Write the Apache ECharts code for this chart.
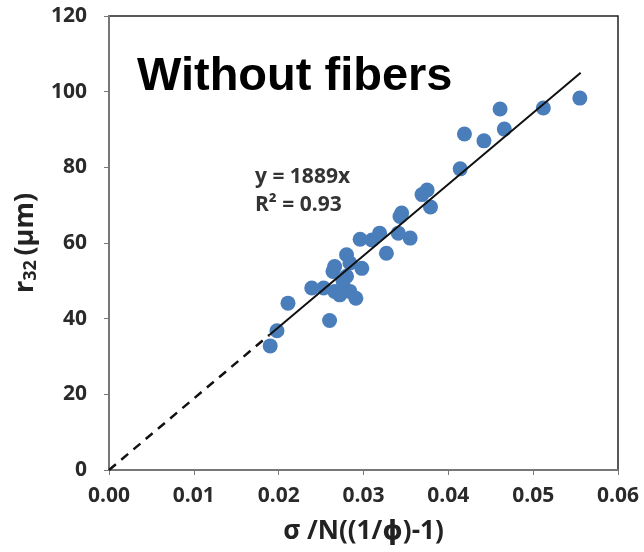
<!DOCTYPE html>
<html><head><meta charset="utf-8">
<script src="https://cdn.jsdelivr.net/npm/echarts@6/dist/echarts.min.js"></script>
<style>html,body{margin:0;padding:0;background:#fff}#c{width:644px;height:552px}</style>
</head><body><div id="c"></div>
<script>
const xValues = [0.0190,0.0198,0.0211,0.0260,0.0239,0.0253,0.0266,0.0276,0.0272,0.0284,0.0291,0.0266,0.0280,0.0284,0.0298,0.0264,0.0280,0.0296,0.0310,0.0319,0.0327,0.0341,0.0343,0.0355,0.0345,0.0369,0.0375,0.0379,0.0414,0.0419,0.0442,0.0461,0.0466,0.0512,0.0555];
const yValues = [32.8,36.8,44.1,39.5,48.1,48.1,47.2,49.8,46.3,47.2,45.4,53.8,56.9,54.7,53.3,52.5,51.2,61.0,60.8,62.6,57.3,62.6,67.0,61.3,67.9,72.8,74.0,69.5,79.6,88.8,87.0,95.4,90.1,95.7,98.3];
const xTicks = [0,0.01,0.02,0.03,0.04,0.05,0.06];
const yTicks = [0,20,40,60,80,100,120];
const slope = 1889;
const dashedXs = [0, 0.0189];
const solidXs = [0.0189, 0.0556];

const pts = xValues.map((x,i)=>[x,yValues[i]]);
const chart = echarts.init(document.getElementById('c'));
const lblFont = {fontFamily:'Open Sans, DejaVu Sans, sans-serif', fontWeight:'bold', color:'#2a2a2a'};
chart.setOption({
  animation:false,
  grid:{left:109,right:26,top:16,bottom:82,show:true,borderColor:'#222',borderWidth:1.5},
  xAxis:{type:'value',min:xTicks[0],max:xTicks[xTicks.length-1],interval:0.01,
    axisLine:{show:true,onZero:false,lineStyle:{color:'#777',width:2}},
    axisTick:{show:true,length:5,lineStyle:{color:'#777'}},
    splitLine:{show:false},
    axisLabel:Object.assign({fontSize:21,margin:16,formatter:v=>v.toFixed(2)},lblFont),
    name:'σ /N((1/ϕ)-1)',nameLocation:'middle',nameGap:49,
    nameTextStyle:Object.assign({},lblFont,{fontSize:26,color:'#222'})},
  yAxis:{type:'value',min:yTicks[0],max:yTicks[yTicks.length-1],interval:20,
    axisLine:{show:true,onZero:false,lineStyle:{color:'#777',width:2}},
    axisTick:{show:true,length:5,lineStyle:{color:'#777'}},
    splitLine:{show:false},
    axisLabel:Object.assign({fontSize:21,margin:22},lblFont),
    name:'{a|r}{b|32 }{a|(μm)}',nameLocation:'middle',nameGap:57,nameRotate:90,
    nameTextStyle:{rich:{
      a:Object.assign({},lblFont,{fontSize:27,color:'#222'}),
      b:Object.assign({},lblFont,{fontSize:18,color:'#222',padding:[11,0,0,0]})}}},
  series:[
    {type:'line',data:dashedXs.map(x=>[x,slope*x]),symbol:'none',
      lineStyle:{color:'#111',width:2.5,type:[9,7]},z:3},
    {type:'line',data:solidXs.map(x=>[x,slope*x]),symbol:'none',
      lineStyle:{color:'#111',width:2},z:3},
    {type:'scatter',data:pts,symbolSize:15,itemStyle:{color:'#4a7ebb',opacity:1},z:2}
  ],
  graphic:[
    {type:'text',left:137,top:54,style:{text:'Without fibers',font:'bold 47px "Liberation Sans", Arial, sans-serif',fill:'#000'}},
    {type:'text',left:255,top:163,style:{text:'y = 1889x\nR² = 0.93',font:'bold 21px "Open Sans", sans-serif',fill:'#333',align:'center',lineHeight:28}}
  ]
});
</script></body></html>
